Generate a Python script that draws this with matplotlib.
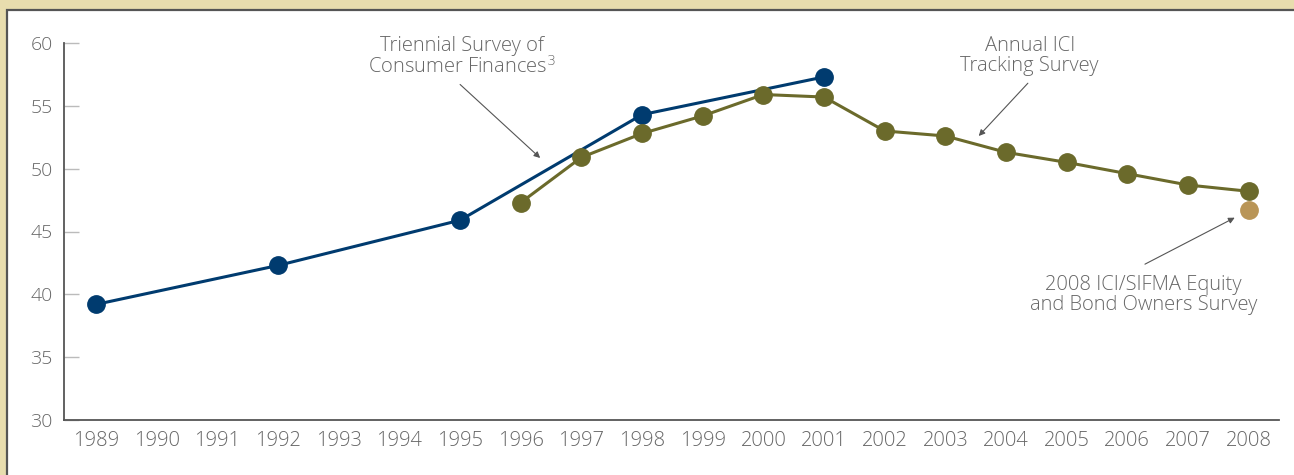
import matplotlib
matplotlib.use('Agg')
import matplotlib.pyplot as plt
from matplotlib.patches import Rectangle

# Triennial Survey of Consumer Finances
scf_years = [1989, 1992, 1995, 1998, 2001]
scf_values = [39.2, 42.3, 45.9, 54.3, 57.3]

# Annual ICI Tracking Survey
ici_years = [1996, 1997, 1998, 1999, 2000, 2001, 2002, 2003, 2004, 2005, 2006, 2007, 2008]
ici_values = [47.3, 50.9, 52.8, 54.2, 55.9, 55.7, 53.0, 52.6, 51.3, 50.5, 49.6, 48.7, 48.2]

# 2008 ICI/SIFMA Equity and Bond Owners Survey
sifma_years = [2008]
sifma_values = [46.7]

year_ticks = list(range(1989, 2009))
y_ticks = [30, 35, 40, 45, 50, 55, 60]

BLUE = '#003b6f'
OLIVE = '#6b6a2b'
TAN = '#b99557'
TEXT = '#666666'
BEIGE = '#e8ddae'

plt.rcParams['font.family'] = ['Open Sans', 'DejaVu Sans']
plt.rcParams['font.weight'] = 'light'

fig = plt.figure(figsize=(12.94, 4.75), dpi=100)
fig.patch.set_facecolor(BEIGE)

# white panel with dark border on top/left
panel = Rectangle((7 / 1294, -0.05), 1.1, (475 - 10) / 475 + 0.05,
                  transform=fig.transFigure, facecolor='white',
                  edgecolor='#555555', linewidth=1.6, zorder=-10)
fig.patches.append(panel)

ax = fig.add_axes([64 / 1294, 55 / 475, (1279 - 64) / 1294, (420 - 43) / 475])
ax.set_facecolor('none')
ax.set_zorder(5)

ax.plot(scf_years, scf_values, color=BLUE, linewidth=2.2, marker='o',
        markersize=12.5, zorder=3)
ax.plot(ici_years, ici_values, color=OLIVE, linewidth=2.2, marker='o',
        markersize=12.5, zorder=3)
ax.plot(sifma_years, sifma_values, color=TAN, linestyle='none', marker='o',
        markersize=12.5, zorder=3)

ax.set_xlim(1988.47, 2008.5)
ax.set_ylim(30, 60)
ax.set_xticks(year_ticks)
ax.set_yticks(y_ticks)

for s in ['top', 'right']:
    ax.spines[s].set_visible(False)
for s in ['left', 'bottom']:
    ax.spines[s].set_color('#555555')
    ax.spines[s].set_linewidth(1.3)

ax.tick_params(axis='x', length=0, pad=8, labelsize=14.5, labelcolor=TEXT)
ax.tick_params(axis='y', direction='in', length=11, width=1, color='#bbbbbb',
               pad=8, labelsize=14, labelcolor=TEXT)

arrow = dict(arrowstyle='-|>', color='#555555', lw=0.8, mutation_scale=9,
             shrinkA=0, shrinkB=0)

# callout labels
ax.text(1995.03, 58.9, 'Triennial Survey of\nConsumer Finances$^3$', ha='center',
        va='center', fontsize=14.5, color=TEXT, linespacing=0.95)
ax.text(2004.39, 58.97, 'Annual ICI\nTracking Survey', ha='center',
        va='center', fontsize=14.5, color=TEXT, linespacing=0.95)
ax.text(2006.27, 39.95, '2008 ICI/SIFMA Equity\nand Bond Owners Survey', ha='center',
        va='center', fontsize=14.5, color=TEXT, linespacing=0.95)

# callout arrows
ax.annotate('', xy=(1996.32, 50.85), xytext=(1995.0, 56.7), arrowprops=arrow)
ax.annotate('', xy=(2003.55, 52.6), xytext=(2004.36, 56.8), arrowprops=arrow)
ax.annotate('', xy=(2007.77, 46.1), xytext=(2006.29, 42.4), arrowprops=arrow)

fig.savefig('out.png', dpi=100, facecolor=fig.get_facecolor())
